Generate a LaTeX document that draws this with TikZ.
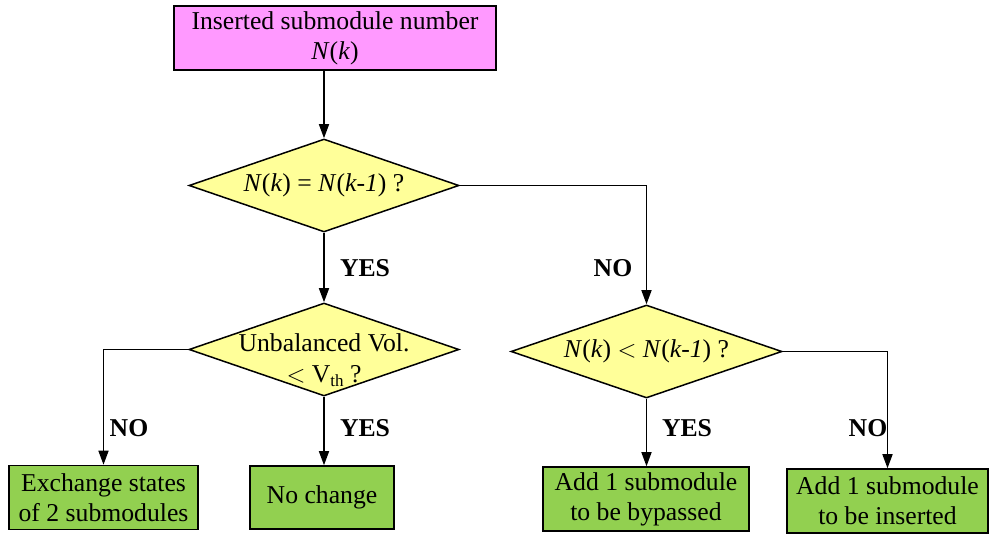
\documentclass[tikz,border=0pt]{standalone}
\usepackage{fontspec}
\setmainfont{Liberation Serif}
\usetikzlibrary{shapes.geometric,arrows.meta}
\definecolor{pinkfill}{HTML}{FF99FF}
\definecolor{yellowfill}{HTML}{FFFF99}
\definecolor{greenfill}{HTML}{92D050}
\tikzset{
  box/.style={draw, line width=1.5pt, inner sep=0pt, align=center, minimum height=64pt},
  startbox/.style={box, fill=pinkfill},
  endbox/.style={box, fill=greenfill},
  dia/.style={diamond, draw, line width=1.5pt, fill=yellowfill, inner sep=0pt, minimum width=270pt, minimum height=93pt},
  diatext/.style={align=center, inner sep=0pt},
  conn/.style={line width=1.5pt, -{Triangle[length=14pt,width=10pt]}},
  lab/.style={font=\fontsize{25.7}{30}\selectfont\bfseries, inner sep=0pt},
}
\begin{document}
\begin{tikzpicture}[x=1pt, y=-1pt, font=\fontsize{25.7}{30}\selectfont]
\useasboundingbox (0,0) rectangle (989,534);
% nodes
\node[startbox, minimum width=322pt] (top) at (335,38) {Inserted submodule number\\\textit{N}(\textit{k})};
\node[dia] (d1) at (324,185.5) {};
\node[diatext] (t1) at (d1) {\textit{N}(\textit{k}) = \textit{N}(\textit{k-1}) ?};
\node[dia] (d2) at (324,349.5) {};
\node[diatext] (t2) at (324,360) {Unbalanced Vol.\\[1pt]$<$ V\raisebox{-0.35ex}{\fontsize{17}{17}\selectfont th} ?};
\node[dia, minimum width=271pt] (d3) at (646.5,351.5) {};
\node[diatext] (t3) at (d3) {\textit{N}(\textit{k}) $<$ \textit{N}(\textit{k-1}) ?};
\node[endbox, minimum width=189pt] (ex) at (103.5,497.5) {Exchange states\\of 2 submodules};
\node[endbox, minimum width=144pt, minimum height=63pt] (nc) at (322,497.5) {No change};
\node[endbox, minimum width=206pt] (byp) at (646,499) {Add 1 submodule\\to be bypassed};
\node[endbox, minimum width=201pt] (ins) at (887.5,501) {Add 1 submodule\\to be inserted};
% connectors
\draw[conn] (d1.north |- top.south) -- (d1.north);
\draw[conn] (d1.south) -- (d2.north);
\draw[conn] (d1.east) -| (d3.north);
\draw[conn] (d2.west) -| (ex.north);
\draw[conn] (d2.south) -- (d2.south |- nc.north);
\draw[conn] (d3.south) -- (d3.south |- byp.north);
\draw[conn] (d3.east) -| (ins.north);
% labels
\node[lab] (y1) at (365,268) {YES};
\node[lab] (n1) at (613,268) {NO};
\node[lab] (n2) at (129,428) {NO};
\node[lab] (y2) at (365,428) {YES};
\node[lab] (y3) at (687,428) {YES};
\node[lab] (n3) at (868,428) {NO};
\end{tikzpicture}
\end{document}
